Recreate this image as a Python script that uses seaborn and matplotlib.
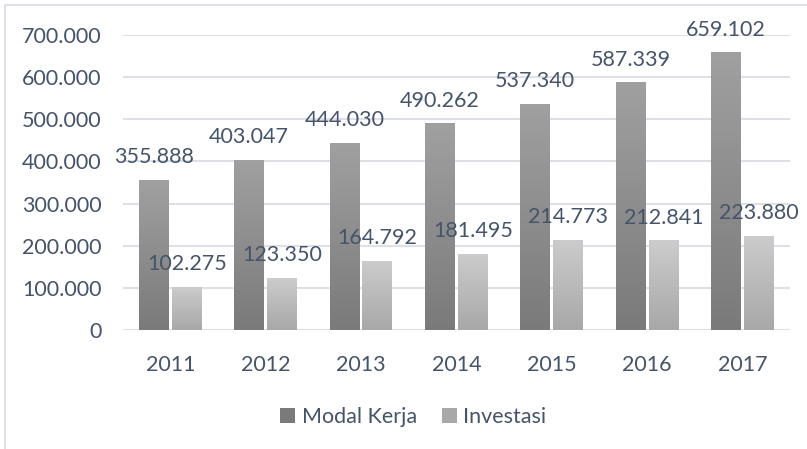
import numpy as np
import pandas as pd
import matplotlib
matplotlib.use("Agg")
import matplotlib.pyplot as plt
from matplotlib.colors import LinearSegmentedColormap
from matplotlib.lines import Line2D
import seaborn as sns

# --- data ---
years = ['2011', '2012', '2013', '2014', '2015', '2016', '2017']
modal_kerja = [355888, 403047, 444030, 490262, 537340, 587339, 659102]
investasi = [102275, 123350, 164792, 181495, 214773, 212841, 223880]
series_names = ['Modal Kerja', 'Investasi']

df = pd.DataFrame({
    'Tahun': years * 2,
    'Nilai': modal_kerja + investasi,
    'Seri': [series_names[0]] * len(years) + [series_names[1]] * len(years),
})

TEXT = '#44546a'
GRID = '#dde1e7'
FS = 15.5
# top / bottom colours of the gradient fill for each series
grad = {
    'Modal Kerja': ('#a0a0a0', '#7a7a7a'),
    'Investasi': ('#cccccc', '#a8a8a8'),
}

sns.set_theme(style='white')
plt.rcParams['font.family'] = ['Lato', 'DejaVu Sans']

fig = plt.figure(figsize=(8.07, 4.49), dpi=100)
ax = fig.add_axes([0.152, 0.265, 0.827, 0.657])

sns.barplot(data=df, x='Tahun', y='Nilai', hue='Seri', order=years,
            hue_order=series_names,
            palette=[grad[s][1] for s in series_names],
            width=0.69, gap=0.09, ax=ax, zorder=2, linewidth=0)

ax.set_ylim(0, 700000)
ax.set_xlim(-0.5, len(years) - 0.5)
ax.set_yticks(range(0, 700001, 100000))
ax.set_yticklabels(['0'] + [f'{v // 1000}.000' for v in range(100000, 700001, 100000)])
ax.yaxis.grid(True, color=GRID, linewidth=1.5, zorder=0)
ax.set_axisbelow(True)
for sp in ax.spines.values():
    sp.set_visible(False)
ax.tick_params(axis='both', length=0, labelsize=FS, labelcolor=TEXT)
ax.tick_params(axis='y', pad=15)
ax.tick_params(axis='x', pad=18)
ax.set_xlabel('')
ax.set_ylabel('')

# gradient fill + value labels
for cont, name in zip(ax.containers, series_names):
    cmap = LinearSegmentedColormap.from_list(name, [grad[name][1], grad[name][0]])
    for bar in cont:
        x0, y0 = bar.get_x(), bar.get_y()
        w, h = bar.get_width(), bar.get_height()
        img = ax.imshow(np.linspace(0, 1, 256).reshape(-1, 1), cmap=cmap,
                        extent=[x0, x0 + w, y0, y0 + h], origin='lower',
                        aspect='auto', zorder=2.5)
        img.set_clip_path(bar)
        val = int(round(h))
        ax.annotate(f'{val // 1000}.{val % 1000:03d}', (x0 + w / 2, h),
                    xytext=(0, 12), textcoords='offset points',
                    ha='center', va='baseline', fontsize=FS, color=TEXT,
                    zorder=4)

ax.set_ylim(0, 700000)
ax.set_xlim(-0.5, len(years) - 0.5)

sns.move_legend(ax, 'center', bbox_to_anchor=(0.512, 0.072),
                bbox_transform=fig.transFigure, ncol=2, frameon=False,
                title=None, fontsize=FS, handlelength=0.7, handleheight=0.7,
                handletextpad=0.3, columnspacing=1.15)
for t in ax.get_legend().get_texts():
    t.set_color(TEXT)

# chart border (left and top edges visible)
fig.add_artist(Line2D([5 / 807, 5 / 807], [0, 1 - 5 / 449], color=GRID, lw=1.5))
fig.add_artist(Line2D([5 / 807, 1], [1 - 5 / 449, 1 - 5 / 449], color=GRID, lw=1.5))

fig.savefig('out.png', dpi=100)
